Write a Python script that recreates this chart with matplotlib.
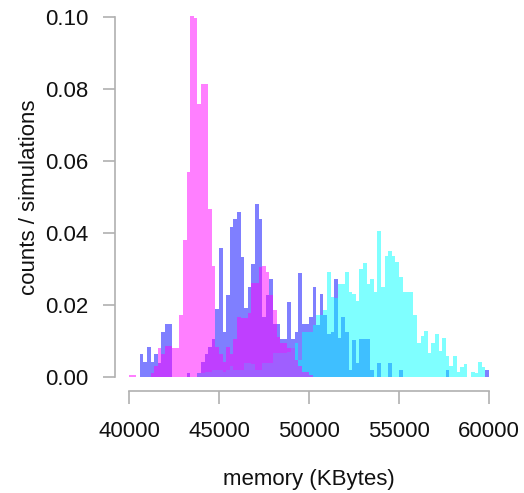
import numpy as np
import matplotlib
matplotlib.use("Agg")
import matplotlib.pyplot as plt

plt.rcParams['font.family'] = ['Liberation Sans', 'DejaVu Sans']

# histogram breaks: 200 KB bins from 40000 to 60000
bin_lo, bin_hi, bin_w = 40000, 60000, 200

# counts/simulations per bin, 100 bins each
blue = [
    0, 0, 0, 0.0064, 0.0043, 0.0084, 0.0043, 0.0064, 0.0040, 0.0124,
    0.0147, 0.0147, 0, 0, 0, 0, 0.0010, 0, 0, 0.0010,
    0.0043, 0.0064, 0.0084, 0.0105, 0.0188, 0.0357, 0.0124, 0.0228, 0.0418, 0.0439,
    0.0459, 0.0334, 0.0191, 0.0251, 0.0314, 0.0481, 0.0438, 0.0168, 0.0228, 0.0271,
    0.0146, 0.0146, 0.0105, 0.0105, 0.0207, 0.0105, 0.0126, 0.0290, 0.0146, 0.0146,
    0.0168, 0.0250, 0.0144, 0.0230, 0.0172, 0.0120, 0.0126, 0.0271, 0.0107, 0.0168,
    0.0126, 0.0020, 0.0103, 0.0040, 0.0105, 0.0105, 0.0105, 0.0020, 0, 0.0040,
    0, 0, 0.0040, 0, 0, 0.0020, 0, 0, 0, 0,
    0, 0, 0, 0, 0, 0, 0, 0, 0.0020, 0,
    0, 0, 0, 0, 0, 0, 0, 0, 0, 0.0020,
]
cyan = [
    0, 0, 0, 0, 0, 0, 0, 0, 0, 0,
    0, 0, 0, 0, 0, 0, 0, 0, 0, 0.0010,
    0.0010, 0.0015, 0.0015, 0.0020, 0.0020, 0.0020, 0.0015, 0.0020, 0.0030, 0.0020,
    0.0020, 0.0020, 0.0040, 0.0040, 0.0035, 0.0020, 0.0020, 0.0040, 0.0040, 0.0040,
    0.0066, 0.0066, 0.0066, 0.0066, 0.0070, 0.0080, 0.0095, 0.0047, 0.0126, 0.0126,
    0.0126, 0.0144, 0.0172, 0.0172, 0.0186, 0.0293, 0.0223, 0.0220, 0.0257, 0.0257,
    0.0293, 0.0237, 0.0230, 0.0210, 0.0300, 0.0316, 0.0257, 0.0271, 0.0237, 0.0406,
    0.0250, 0.0336, 0.0351, 0.0336, 0.0320, 0.0279, 0.0237, 0.0237, 0.0237, 0.0172,
    0.0094, 0.0114, 0.0128, 0.0066, 0.0094, 0.0119, 0.0073, 0.0107, 0.0058, 0.0030,
    0.0058, 0.0015, 0.0029, 0.0036, 0, 0.0015, 0.0010, 0.0043, 0.0029, 0,
]
pink = [
    0.0006, 0.0006, 0, 0, 0, 0, 0.0010, 0.0030, 0.0081, 0.0065,
    0.0085, 0.0085, 0.0081, 0.0081, 0.0172, 0.0381, 0.0570, 0.1003, 0.0996, 0.0757,
    0.0813, 0.0813, 0.0466, 0.0308, 0.0084, 0.0064, 0.0043, 0.0084, 0.0064, 0.0105,
    0.0168, 0.0163, 0.0163, 0.0177, 0.0260, 0.0260, 0.0306, 0.0308, 0.0293, 0.0228,
    0.0186, 0.0110, 0.0095, 0.0095, 0.0080, 0.0080, 0.0047, 0.0030, 0.0015, 0.0015,
    0.0005, 0, 0, 0, 0, 0, 0, 0, 0, 0,
    0, 0, 0, 0, 0, 0, 0, 0, 0, 0,
    0, 0, 0, 0, 0, 0, 0, 0, 0, 0,
    0, 0, 0, 0, 0, 0, 0, 0, 0, 0,
    0, 0, 0, 0, 0, 0, 0, 0, 0, 0,
]

x_ticks = [40000, 45000, 50000, 55000, 60000]
y_ticks = [0.00, 0.02, 0.04, 0.06, 0.08, 0.10]

edges = np.arange(bin_lo, bin_hi + bin_w, bin_w)

W, H = 524, 493
fig = plt.figure(figsize=(W / 100, H / 100), dpi=100)
ax = fig.add_axes([114.6 / W, 1 - 391.4 / H, (503.4 - 114.6) / W, (391.4 - 2.6) / H])

# same order as the original: blue, then cyan, then magenta on top
for vals, col in [(blue, '#0000FF'), (cyan, '#00FFFF'), (pink, '#FF00FF')]:
    ax.stairs(vals, edges, fill=True, color=col, alpha=0.5, linewidth=0)

ax.set_xlim(39200, 60800)
ax.set_ylim(-0.004, 0.104)

for s in ['top', 'right']:
    ax.spines[s].set_visible(False)
for s in ['left', 'bottom']:
    ax.spines[s].set_color('#b0b0b0')
    ax.spines[s].set_linewidth(1.2)
ax.spines['bottom'].set_bounds(40000, 60000)
ax.spines['left'].set_bounds(0, 0.10)

ax.set_xticks(x_ticks)
ax.set_xticklabels([str(t) for t in x_ticks])
ax.set_yticks(y_ticks)
ax.set_yticklabels(['%.2f' % t for t in y_ticks])
ax.tick_params(axis='both', direction='out', length=9, width=1.2, color='#b0b0b0',
               labelsize=16, labelcolor='#111111')
ax.tick_params(axis='x', pad=12)
ax.tick_params(axis='y', pad=10)

fig.text(309 / W, 1 - 480 / H, 'memory (KBytes)', ha='center', va='center',
         fontsize=16, color='#111111')
fig.text(30 / W, 1 - 197 / H, 'counts / simulations', ha='center', va='center',
         rotation=90, fontsize=16, color='#111111')

fig.savefig('out.png', dpi=100)
